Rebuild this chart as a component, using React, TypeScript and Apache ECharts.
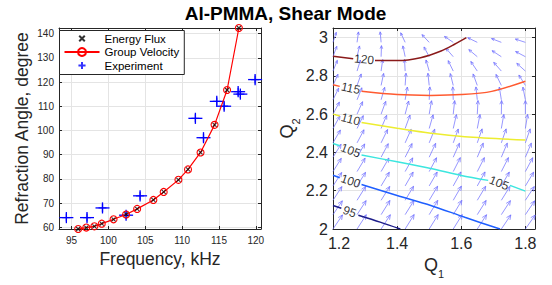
import React, { useEffect, useRef } from 'react';
import * as echarts from 'echarts';

// ---------- Left panel data ----------
const freqTicks = [95, 100, 105, 110, 115, 120];
const angleTicks = [60, 70, 80, 90, 100, 110, 120, 130, 140];

const groupFreq = [95.9, 97.0, 98.1, 99.1, 100.7, 102.4, 103.9, 106.1, 107.5, 109.5, 110.8, 112.5, 114.4, 116.1, 117.7];
const groupAngle = [59.3, 59.9, 60.4, 61.5, 63.3, 65.3, 67.6, 71.3, 74.6, 79.6, 83.9, 90.9, 102.3, 116.7, 142.3];

const fluxFreq = [95.9, 97.0, 98.1, 99.1, 100.7, 102.4, 103.9, 106.1, 107.5, 109.5, 110.8, 112.5, 114.4, 116.1, 117.7];
const fluxAngle = [59.3, 59.9, 60.4, 61.5, 63.3, 65.3, 67.6, 71.3, 74.6, 79.6, 83.9, 90.9, 102.3, 116.7, 142.3];

const expFreq = [94.3, 97.1, 99.2, 102.4, 104.3, 111.8, 112.9, 114.7, 115.7, 117.6, 117.9, 119.9];
const expAngle = [64, 64, 68, 65, 73, 105, 97, 112, 110, 116, 115, 121];
const expFreqErr = 0.95;
const expAngleErr = 2.3;

// ---------- Right panel data ----------
const q1Ticks = [1.2, 1.4, 1.6, 1.8];
const q2Ticks = [2, 2.2, 2.4, 2.6, 2.8, 3];

const q1Grid = [1.2, 1.275, 1.35, 1.425, 1.5, 1.575, 1.65, 1.725, 1.8];
const q2Grid = [2.0, 2.075, 2.15, 2.225, 2.3, 2.375, 2.45, 2.525, 2.6, 2.675, 2.75, 2.825, 2.9, 2.975];

// arrow direction (degrees, counter-clockwise from +Q1), one row per q2Grid value
const arrowAngle = [
  [56, 57, 57, 58, 58, 58, 57, 56, 55],
  [56, 57, 58, 58, 59, 59, 58, 57, 56],
  [57, 58, 58, 59, 59, 60, 59, 58, 57],
  [57, 58, 59, 60, 60, 61, 61, 60, 59],
  [58, 59, 60, 61, 62, 63, 63, 63, 62],
  [58, 60, 62, 63, 65, 66, 67, 67, 67],
  [60, 62, 64, 66, 68, 70, 71, 71, 71],
  [61, 64, 67, 70, 74, 77, 79, 80, 81],
  [62, 66, 70, 75, 80, 84, 87, 89, 90],
  [64, 68, 74, 80, 87, 92, 96, 99, 101],
  [66, 70, 78, 86, 96, 104, 110, 116, 122],
  [68, 73, 82, 93, 106, 116, 124, 131, 138],
  [70, 77, 88, 102, 118, 131, 140, 147, 152],
  [72, 82, 95, 115, 133, 146, 154, 159, 162],
];
// relative arrow magnitude, one per q2Grid row
const arrowMag = [1.0, 0.98, 0.96, 0.94, 0.92, 0.9, 0.87, 0.84, 0.8, 0.76, 0.72, 0.68, 0.65, 0.62];

const contourLevels = [95, 100, 105, 110, 115, 120];
const contour95 = [
  [[1.2, 2.123], [1.226, 2.108]],
  [[1.279, 2.072], [1.347, 2.036], [1.41, 2.0]],
];
const contour100 = [
  [[1.2, 2.281], [1.221, 2.268]],
  [[1.289, 2.232], [1.4, 2.175], [1.505, 2.123], [1.611, 2.061], [1.721, 2.0]],
];
const contour105 = [
  [[1.2, 2.447], [1.221, 2.435]],
  [[1.289, 2.386], [1.4, 2.351], [1.505, 2.316], [1.6, 2.28], [1.684, 2.254]],
  [[1.752, 2.228], [1.8, 2.198]],
];
const contour110 = [
  [[1.2, 2.6], [1.221, 2.59]],
  [[1.289, 2.556], [1.4, 2.526], [1.505, 2.5], [1.611, 2.482], [1.8, 2.465]],
];
const contour115 = [
  [[1.2, 2.754], [1.221, 2.745]],
  [[1.289, 2.719], [1.4, 2.702], [1.505, 2.698], [1.6, 2.702], [1.695, 2.719], [1.8, 2.772]],
];
const contour120 = [
  [[1.2, 2.903], [1.263, 2.889]],
  [[1.331, 2.88], [1.4, 2.88], [1.473, 2.895], [1.537, 2.93], [1.579, 2.965], [1.616, 3.0]],
];
const contourLabelLevel = [95, 100, 105, 110, 115, 120, 105];
const contourLabelQ1 = [1.252, 1.255, 1.255, 1.255, 1.255, 1.297, 1.718];
const contourLabelQ2 = [2.09, 2.25, 2.41, 2.573, 2.735, 2.886, 2.24];

// ---------- Styles ----------
const FONT = '"Liberation Sans", Arial, Helvetica, sans-serif';
const AX = '#262626';
const GRIDC = '#e4e4e4';
const contourColors = ['#1c1c8a', '#1f5fff', '#3de6df', '#eded30', '#ff5a30', '#8a1a1a'];
const contourLabelRot = [-20, -18, -20, -15, -12, -5, -22];
const ARROW_COLOR = 'rgba(110,110,255,0.72)';
const ARROW_LEN = 17;

function makeAxes(gridIndex: number, min: number, max: number, ticks: number[], dim: 'x' | 'y', fontSize: number, name: any, nameGap: number, nameStyle: any, labelFormatter?: any, labelRich?: any) {
  const common = {
    gridIndex,
    type: 'value',
    min,
    max,
    axisPointer: { show: false },
  };
  const main = {
    ...common,
    position: dim === 'x' ? 'bottom' : 'left',
    axisLine: { show: true, onZero: false, lineStyle: { color: AX, width: 1 } },
    axisTick: { show: true, inside: true, length: 3, customValues: ticks, lineStyle: { color: AX } },
    axisLabel: {
      customValues: ticks,
      color: AX,
      fontSize,
      fontFamily: FONT,
      margin: dim === 'x' ? 6 : 5,
      formatter: labelFormatter || ((v: number) => `${v}`),
      rich: labelRich,
    },
    splitLine: { show: true, lineStyle: { color: GRIDC, width: 1 } },
    name,
    nameLocation: 'middle',
    nameGap,
    nameTextStyle: nameStyle,
  };
  const mirror = {
    ...common,
    position: dim === 'x' ? 'top' : 'right',
    axisLine: { show: true, onZero: false, lineStyle: { color: AX, width: 1 } },
    axisTick: { show: true, inside: true, length: 3, customValues: ticks, lineStyle: { color: AX } },
    axisLabel: { show: false, customValues: ticks },
    splitLine: { show: false },
  };
  return [main, mirror];
}

export default function App() {
  const ref = useRef<HTMLDivElement>(null);

  useEffect(() => {
    if (!ref.current) return;
    const chart = echarts.init(ref.current, undefined, { renderer: 'svg' });

    const [lx, lxTop] = makeAxes(0, 93.3, 120.7, freqTicks, 'x', 10, 'Frequency, kHz', 15, { fontSize: 17.5, color: AX, fontFamily: FONT });
    const [ly, lyRight] = makeAxes(0, 59.3, 142.3, angleTicks, 'y', 10, 'Refraction Angle, degree', 28, { fontSize: 17.5, color: AX, fontFamily: FONT });
    const [rx, rxTop] = makeAxes(
      1, 1.2, 1.83, q1Ticks, 'x', 16, '{q|Q}{s|1}', 25,
      {
        color: AX, fontFamily: FONT, fontSize: 18,
        rich: { q: { fontSize: 18, color: AX, fontFamily: FONT }, s: { fontSize: 11, color: AX, fontFamily: FONT, verticalAlign: 'bottom', padding: [0, 0, -6, 0] } },
      },
      (v: number) => (v === q1Ticks[0] ? `{first|${v}}` : `${v}`),
      { first: { fontSize: 16, color: AX, fontFamily: FONT, padding: [0, 0, 0, 12] } },
    );
    const [ry, ryRight] = makeAxes(1, 2, 3.05, q2Ticks, 'y', 16, '{q|Q}{s|2}', 36, {
      color: AX, fontFamily: FONT, fontSize: 18,
      rich: { q: { fontSize: 18, color: AX, fontFamily: FONT }, s: { fontSize: 11, color: AX, fontFamily: FONT, verticalAlign: 'bottom', padding: [0, 0, -6, 0] } },
    });

    const arrowData: number[][] = [];
    q2Grid.forEach((q2, r) => {
      q1Grid.forEach((q1, c) => {
        arrowData.push([q1, q2, arrowAngle[r][c], arrowMag[r]]);
      });
    });

    const contourSets = [contour95, contour100, contour105, contour110, contour115, contour120];
    const contourSeries: any[] = [];
    contourSets.forEach((segs, i) => {
      segs.forEach((seg) => {
        contourSeries.push({
          type: 'line',
          name: `c${contourLevels[i]}`,
          xAxisIndex: 2,
          yAxisIndex: 2,
          data: seg,
          symbol: 'none',
          smooth: 0.3,
          silent: true,
          lineStyle: { color: contourColors[i], width: 1.5 },
          z: 3,
        });
      });
    });

    const option: any = {
      animation: false,
      backgroundColor: '#fff',
      textStyle: { fontFamily: FONT },
      graphic: [
        {
          type: 'text',
          x: 285.5,
          y: 13,
          style: {
            text: 'Al-PMMA, Shear Mode',
            align: 'center',
            verticalAlign: 'middle',
            fontSize: 19,
            fontWeight: 'bold',
            fontFamily: FONT,
            fill: '#000',
          },
        },
      ],
      grid: [
        { left: 59, top: 28, width: 202, height: 201 },
        { left: 333, top: 28, width: 202, height: 201 },
      ],
      xAxis: [lx, lxTop, rx, rxTop],
      yAxis: [ly, lyRight, ry, ryRight],
      legend: {
        orient: 'vertical',
        left: 59.5,
        top: 30.5,
        padding: [2, 5, 3, 4],
        itemGap: 1.5,
        itemWidth: 35,
        itemHeight: 10,
        backgroundColor: '#fff',
        borderColor: AX,
        borderWidth: 1,
        borderRadius: 0,
        textStyle: { fontSize: 11.5, color: '#000', fontFamily: FONT },
        selectedMode: false,
        data: [
          { name: 'Energy Flux', icon: 'path://M-4,-4M14,14M0,0L10,10M0,10L10,0' },
          { name: 'Group Velocity' },
          { name: 'Experiment', icon: 'path://M-2,-2M12,12M5,0L5,10M0,5L10,5' },
        ],
      },
      series: [
        {
          type: 'custom',
          name: 'arrows',
          xAxisIndex: 2,
          yAxisIndex: 2,
          clip: false,
          silent: true,
          z: 1,
          encode: { x: 0, y: 1 },
          data: arrowData,
          renderItem: (params: any, api: any) => {
            const p = api.coord([api.value(0), api.value(1)]);
            const a = (api.value(2) * Math.PI) / 180;
            const L = api.value(3) * ARROW_LEN;
            const tip = [p[0] + L * Math.cos(a), p[1] - L * Math.sin(a)];
            const h = L * 0.3;
            const ha = 0.42;
            const b1 = [tip[0] - h * Math.cos(a - ha), tip[1] + h * Math.sin(a - ha)];
            const b2 = [tip[0] - h * Math.cos(a + ha), tip[1] + h * Math.sin(a + ha)];
            return {
              type: 'group',
              children: [
                { type: 'line', shape: { x1: p[0], y1: p[1], x2: tip[0], y2: tip[1] }, style: { stroke: ARROW_COLOR, lineWidth: 1, fill: 'none' } },
                { type: 'polyline', shape: { points: [b1, tip, b2] }, style: { stroke: ARROW_COLOR, lineWidth: 1, fill: 'none' } },
              ],
            };
          },
        },
        ...contourSeries,
        {
          type: 'scatter',
          name: 'contourLabels',
          xAxisIndex: 2,
          yAxisIndex: 2,
          symbolSize: 0,
          silent: true,
          z: 4,
          data: contourLabelLevel.map((lv, i) => ({
            value: [contourLabelQ1[i], contourLabelQ2[i]],
            label: {
              show: true,
              position: 'inside',
              formatter: `${lv}`,
              rotate: contourLabelRot[i],
              fontSize: 12,
              color: '#000',
              fontFamily: FONT,
            },
          })),
        },
        {
          type: 'custom',
          name: 'expErr',
          xAxisIndex: 0,
          yAxisIndex: 0,
          silent: true,
          z: 2,
          encode: { x: 0, y: 1 },
          data: expFreq.map((f, i) => [f, expAngle[i]]),
          renderItem: (params: any, api: any) => {
            const f = api.value(0);
            const a = api.value(1);
            const l = api.coord([f - expFreqErr, a]);
            const r = api.coord([f + expFreqErr, a]);
            const b = api.coord([f, a - expAngleErr]);
            const t = api.coord([f, a + expAngleErr]);
            const st = { stroke: '#0000ff', lineWidth: 1.3, fill: 'none' };
            return {
              type: 'group',
              children: [
                { type: 'line', shape: { x1: l[0], y1: l[1], x2: r[0], y2: r[1] }, style: st },
                { type: 'line', shape: { x1: b[0], y1: b[1], x2: t[0], y2: t[1] }, style: st },
              ],
            };
          },
        },
        {
          type: 'line',
          name: 'Group Velocity',
          xAxisIndex: 0,
          yAxisIndex: 0,
          data: groupFreq.map((f, i) => [f, groupAngle[i]]),
          symbol: 'circle',
          symbolSize: 7,
          showAllSymbol: true,
          itemStyle: { color: 'rgba(255,255,255,0)', borderColor: '#ff0000', borderWidth: 1.1 },
          lineStyle: { color: '#ff0000', width: 1.2 },
          z: 5,
        },
        {
          type: 'scatter',
          name: 'Energy Flux',
          xAxisIndex: 0,
          yAxisIndex: 0,
          data: fluxFreq.map((f, i) => [f, fluxAngle[i]]),
          symbol: 'path://M0,0L10,10M0,10L10,0',
          symbolSize: 4,
          itemStyle: { color: '#000', borderColor: '#000', borderWidth: 1.1 },
          z: 6,
        },
        {
          type: 'scatter',
          name: 'Experiment',
          xAxisIndex: 0,
          yAxisIndex: 0,
          data: expFreq.map((f, i) => [f, expAngle[i]]),
          symbol: 'path://M5,0L5,10M0,5L10,5',
          symbolSize: 8,
          itemStyle: { color: '#0000ff', borderColor: '#0000ff', borderWidth: 1.3 },
          z: 4,
        },
      ],
    };

    chart.setOption(option);
    return () => chart.dispose();
  }, []);

  return (
    <div
      ref={ref}
      style={{ position: 'fixed', left: 0, top: 0, width: 552, height: 285, background: '#fff' }}
    />
  );
}
